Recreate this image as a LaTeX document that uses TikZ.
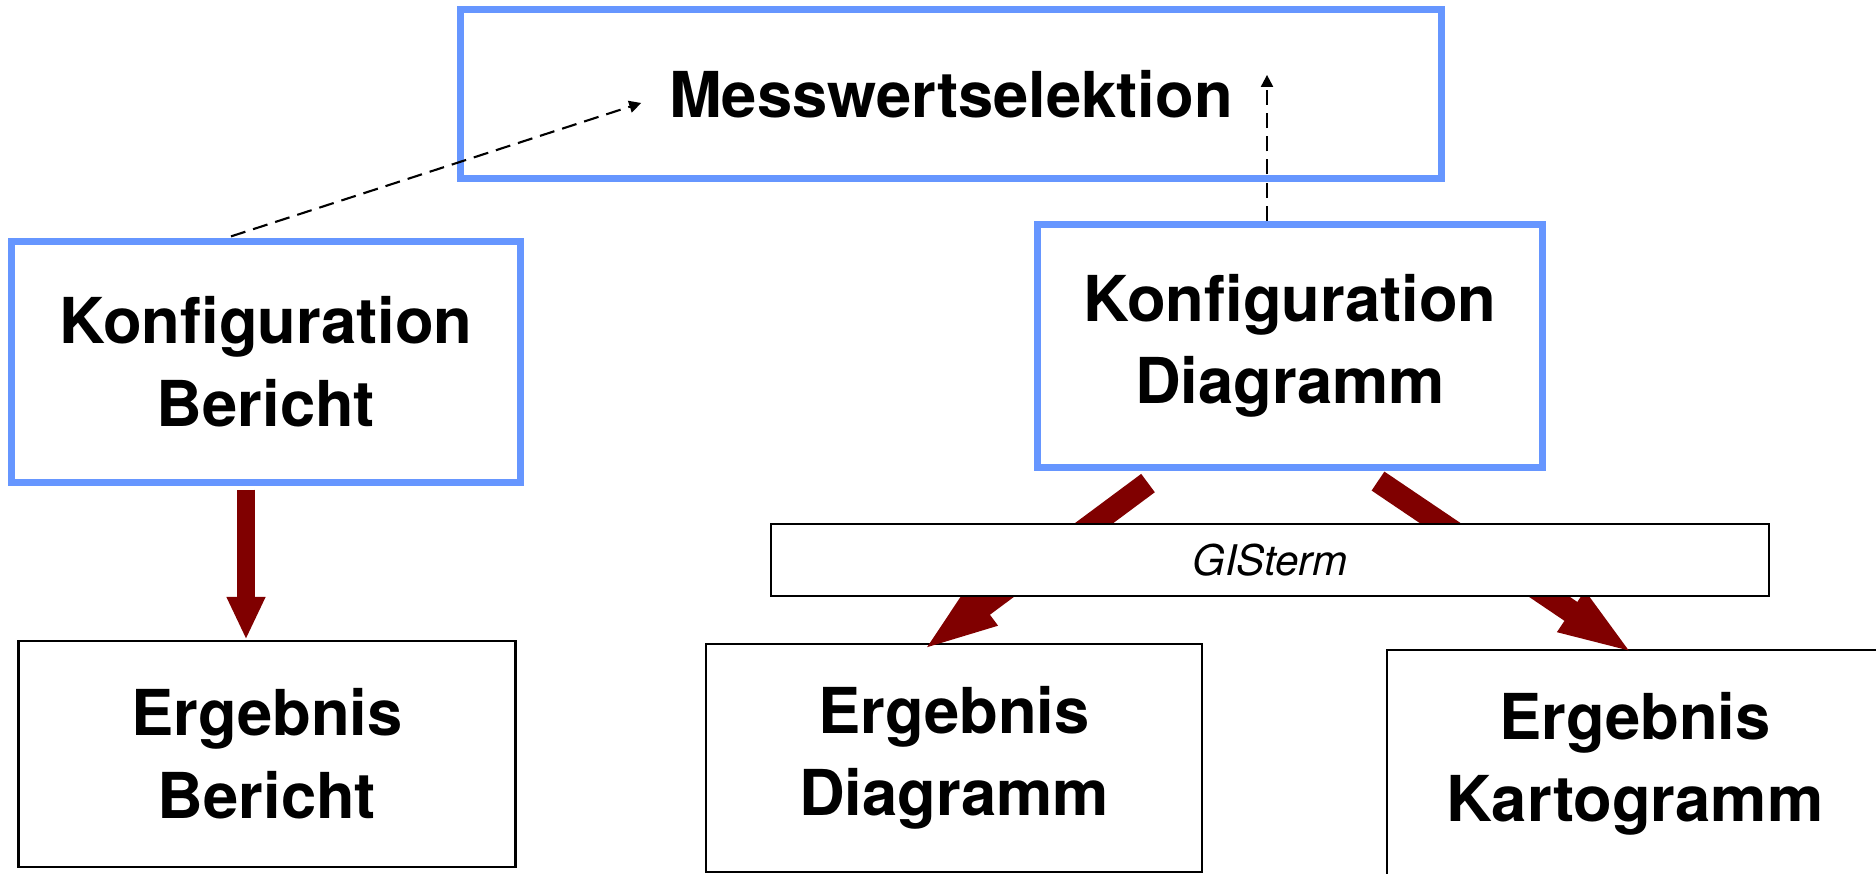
\documentclass[tikz,border=0pt]{standalone}
\usepackage{fontspec}
\setmainfont{TeX Gyre Heros}
\usetikzlibrary{arrows.meta,calc}

\definecolor{cfgblue}{RGB}{102,150,255}
\definecolor{flowred}{RGB}{128,0,0}

\tikzset{
  cfgbox/.style={draw=cfgblue,line width=2pt,fill=white,align=center,
    font=\fontsize{18}{23.5}\selectfont\bfseries},
  resbox/.style={draw=black,line width=0.7pt,fill=white,align=center,
    font=\fontsize{18}{23.5}\selectfont\bfseries},
  flow/.style={draw=flowred,line width=6.5pt,-{Triangle[length=22pt,width=12.2pt]}},
  flowdown/.style={draw=flowred,line width=5.4pt,-{Triangle[length=12.2pt,width=10.2pt]}},
  uses/.style={line width=0.6pt,dash pattern=on 4.3pt off 2.3pt,
    -{Triangle[length=3.4pt,width=3.4pt]}}
}

\begin{document}
\begin{tikzpicture}[x=0.01cm,y=-0.01cm]
\useasboundingbox (0,0) rectangle (1876,874);

% configuration layer
\node [cfgbox,minimum width=9.8cm,minimum height=1.68cm] (mess) at (951,94) {Messwertselektion};
\node [cfgbox,minimum width=5.08cm,minimum height=2.4cm] (kber) at (266,362) {Konfiguration\\Bericht};
\node [cfgbox,minimum width=5.04cm,minimum height=2.43cm] (kdiag) at (1290,346) {Konfiguration\\Diagramm};

% results
\node [resbox,minimum width=4.97cm,minimum height=2.26cm] (eber) at (267,754) {Ergebnis\\Bericht};
\node [resbox,minimum width=4.96cm,minimum height=2.28cm] (ediag) at (954,758) {Ergebnis\\Diagramm};
\node [resbox,minimum width=4.96cm,minimum height=2.28cm] (ekart) at (1635,764) {Ergebnis\\Kartogramm};

\draw[flowdown] ($(kber.south)+(-20,4)$) -- ($(eber.north)+(-21,0)$);
\draw[flow] ($(kdiag.south)+(-142,12)$) -- ($(ediag.north)+(-33,9)$);
\draw[flow] ($(kdiag.south)+(88,10)$) -- ($(ekart.north)+(0,6)$);

% GISterm bar sits over both arrows
\node [draw,line width=0.6pt,fill=white,minimum width=9.97cm,minimum height=0.72cm,
  font=\fontsize{12}{14}\selectfont\itshape] (gis) at (1270,560) {GISterm};

\draw[uses] ($(kber.north)+(-35,-2)$) -- ($(mess.west)+(184,9)$);
\draw[uses] ($(kdiag.north)+(-23,0)$) -- ++(0,-146);
\end{tikzpicture}
\end{document}
